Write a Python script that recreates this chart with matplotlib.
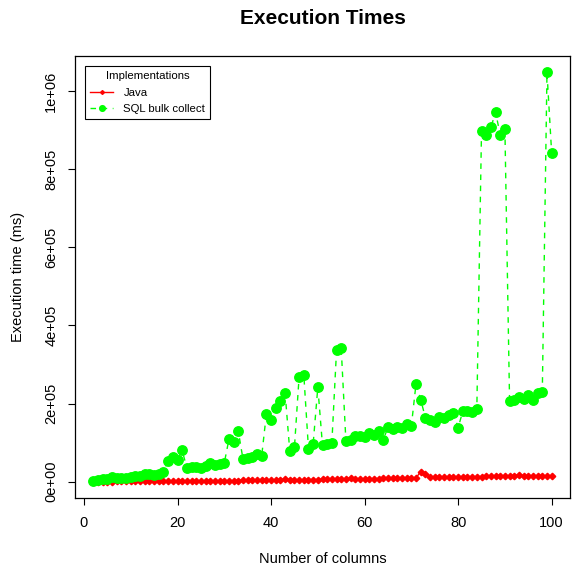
# -*- coding: utf-8 -*-
"""Execution times: Java vs SQL bulk collect, R base-graphics look."""
import matplotlib

matplotlib.use("Agg")
import matplotlib.pyplot as plt
from matplotlib.ticker import FuncFormatter

plt.rcParams["font.family"] = ["Liberation Sans", "DejaVu Sans"]

columns = list(range(2, 101))

java_ms = [
    300, 400, 500, 500, 600, 700, 700, 800, 900,
    1000, 1000, 1100, 1200, 1300, 1300, 1400, 1500, 1600, 1700,
    1800, 1900, 2000, 2100, 2200, 2300, 2400, 2500, 2600, 2800,
    2900, 3000, 3100, 3300, 3400, 3500, 3700, 3800, 4000, 4100,
    4300, 4400, 7500, 4700, 4900, 5000, 5200, 5400, 5600, 5700,
    5900, 6100, 6300, 6500, 6700, 6900, 9500, 7200, 7400, 7600,
    7800, 8000, 8200, 8400, 8600, 8800, 9000, 9200, 9400, 9600,
    9800, 26000, 19000, 11500, 11700, 12000, 12100, 12300, 12400, 12600,
    12700, 12900, 13000, 13200, 13300, 13500, 13600, 13800, 13900, 14100,
    14200, 14400, 18500, 14700, 14800, 15000, 15100, 15300, 15400, 15600,
]

sql_bulk_ms = [
    3000, 5000, 7000, 8000, 12000, 9000, 10000, 10000, 11000,
    14000, 15000, 20000, 19000, 18000, 20000, 25000, 54000, 64000, 56000,
    80000, 35000, 37000, 38000, 35000, 40000, 47000, 44000, 46000, 48000,
    109000, 103000, 129000, 58000, 60000, 64000, 72000, 66000, 174000, 159000,
    190000, 207000, 228000, 79000, 88000, 269000, 274000, 85000, 97000, 242000,
    93000, 96000, 100000, 336000, 342000, 105000, 108000, 118000, 116000, 114000,
    126000, 120000, 129000, 107000, 140000, 136000, 140000, 137000, 148000, 143000,
    251000, 210000, 164000, 159000, 153000, 167000, 164000, 170000, 176000, 138000,
    181000, 180000, 178000, 187000, 898000, 887000, 907000, 946000, 888000, 904000,
    206000, 210000, 216000, 212000, 221000, 210000, 226000, 230000, 1048000, 841000,
]

series_labels = ["Java", "SQL bulk collect"]


def r_range(lo, hi):
    pad = (hi - lo) * 0.04
    return lo - pad, hi + pad


W, H = 572, 570
fig = plt.figure(figsize=(W / 100, H / 100), dpi=100)
left, right, bottom, top = 75, 570, 498, 56
ax = fig.add_axes([left / W, 1 - bottom / H, (right - left) / W, (bottom - top) / H])

ax.plot(columns, java_ms, color="#ff0000", lw=1.0, marker="D", ms=3.3,
        mec="#ff0000", mfc="#ff0000", label=series_labels[0])
ax.plot(columns, sql_bulk_ms, color="#00ff00", lw=1.0, ls=(0, (4, 4)),
        marker="o", ms=6.8, mec="#00ff00", mfc="#00ff00", label=series_labels[1])

ax.set_xlim(*r_range(min(columns), max(columns)))
ax.set_ylim(*r_range(min(java_ms + sql_bulk_ms), max(java_ms + sql_bulk_ms)))
ax.set_xticks([0, 20, 40, 60, 80, 100])
ax.set_yticks([0, 200000, 400000, 600000, 800000, 1000000])
ax.yaxis.set_major_formatter(FuncFormatter(lambda v, p: f"{v:.0e}"))

ax.tick_params(direction="out", length=5, width=0.8, labelsize=10.5, pad=8)
ax.tick_params(axis="y", pad=7)
for lab in ax.get_yticklabels():
    lab.set_rotation(90)
    lab.set_va("center")
for sp in ax.spines.values():
    sp.set_linewidth(0.9)

fig.text((left + right) / 2 / W, 1 - 18 / H, "Execution Times",
         ha="center", va="center", fontsize=15, fontweight="bold")
fig.text((left + right) / 2 / W, 1 - 559 / H, "Number of columns",
         ha="center", va="center", fontsize=10.5)
fig.text(18 / W, 1 - (top + bottom) / 2 / H, "Execution time (ms)",
         ha="center", va="center", rotation=90, fontsize=10.5)

leg = ax.legend(title="Implementations", loc="upper left", fontsize=8.2,
                title_fontsize=8.2, frameon=True, fancybox=False,
                edgecolor="black", framealpha=1, borderpad=0.45,
                handlelength=2.0, handletextpad=0.9, labelspacing=0.55,
                markerscale=0.6, borderaxespad=0.9)
leg.get_frame().set_linewidth(0.8)

fig.savefig("out.png", dpi=100)
